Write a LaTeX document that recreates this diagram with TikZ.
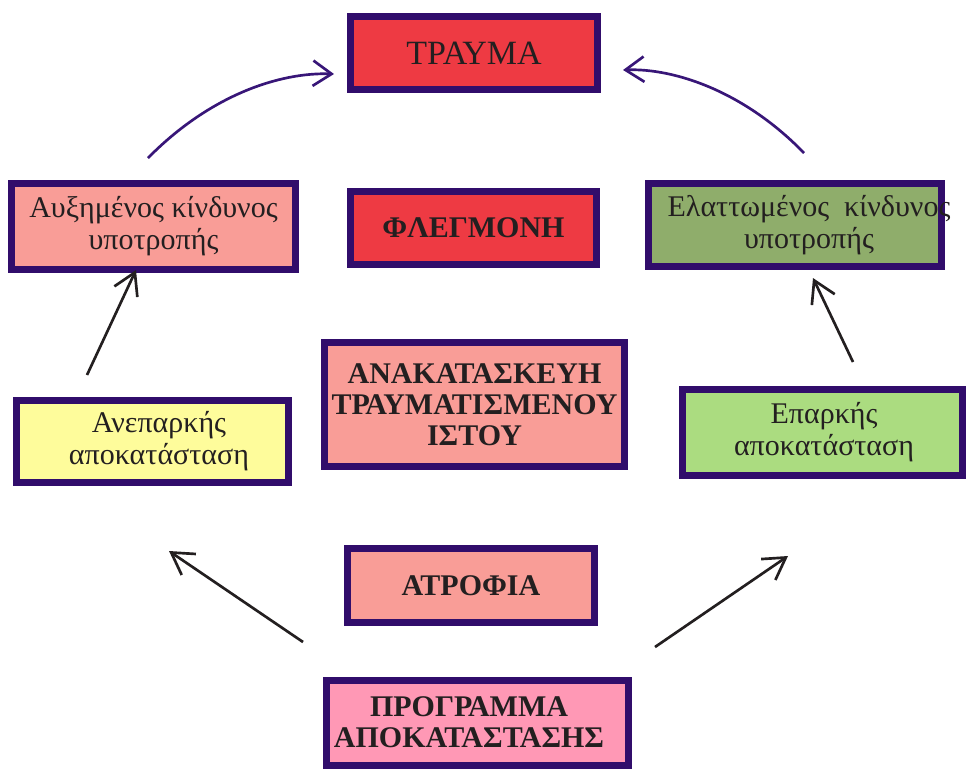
\documentclass[tikz,border=0pt]{standalone}
\usepackage{fontspec}
\setmainfont{Liberation Serif}
\usetikzlibrary{arrows.meta}

\definecolor{frame}{RGB}{49,13,107}
\definecolor{ink}{RGB}{35,31,32}
\definecolor{curve}{RGB}{56,22,120}
\definecolor{redfill}{RGB}{238,58,67}
\definecolor{salmon}{RGB}{249,157,151}
\definecolor{olive}{RGB}{143,173,107}
\definecolor{paleyellow}{RGB}{254,252,155}
\definecolor{lightgreen}{RGB}{171,220,128}
\definecolor{pinkfill}{RGB}{255,152,181}

\begin{document}
\begin{tikzpicture}[x=0.75pt,y=-0.75pt,
  box/.style={draw=frame, line width=5.25pt, inner sep=0pt, align=center, text=ink},
  dims/.style 2 args={minimum width={#1*0.75pt}, minimum height={#2*0.75pt}},
  txt/.style={inner sep=0pt, align=center, text=ink},
  reg/.style={font=\fontsize{22.5}{24}\selectfont},
  big/.style={font=\fontsize{25.5}{28}\selectfont},
  heavy/.style={font=\fontsize{22.5}{23.25}\selectfont\bfseries},
  upcurve/.style={draw=curve, line width=2pt, -{Straight Barb[length=14pt,width=19pt]}},
  straight/.style={draw=ink, line width=2pt, -{Straight Barb[length=16pt,width=19pt]}}]

\useasboundingbox (0,0) rectangle (966,769);

% central column
\node[box, big, fill=redfill, dims={247}{73}] (trauma) at (474,53) {ΤΡΑΥΜΑ};
\node[box, heavy, fill=redfill, dims={246}{73}] (flegmoni) at (473.5,228) {ΦΛΕΓΜΟΝΗ};
\node[box, heavy, fill=salmon, dims={300}{124}] (anakat) at (474.5,404.5)
  {ΑΝΑΚΑΤΑΣΚΕΥΗ\\ΤΡΑΥΜΑΤΙΣΜΕΝΟΥ\\ΙΣΤΟΥ};
\node[box, heavy, fill=salmon, dims={247}{74}] (atrofia) at (471,585.5) {ΑΤΡΟΦΙΑ};
\node[box, fill=pinkfill, dims={302}{85}] (programma) at (477.5,723) {};
\node[txt, heavy] (programmatext) at (469,722.5) {ΠΡΟΓΡΑΜΜΑ\\ΑΠΟΚΑΤΑΣΤΑΣΗΣ};

% left branch
\node[box, reg, fill=salmon, dims={284}{86}] (highrisk) at (153.5,226.5)
  {Αυξημένος κίνδυνος\\υποτροπής};
\node[box, fill=paleyellow, dims={272}{82}] (poor) at (152.5,441.5) {};
\node[txt, reg] (poortext) at (159,441.5) {Ανεπαρκής\\αποκατάσταση};

% right branch
\node[box, fill=olive, dims={293}{83}] (lowrisk) at (795,225) {};
\node[txt, reg] (lowrisktext) at (809,225) {Ελαττωμένος\ \ κίνδυνος\\υποτροπής};
\node[box, fill=lightgreen, dims={280}{86}] (good) at (822.5,432.5) {};
\node[txt, reg] (goodtext) at (824,432.5) {Επαρκής\\αποκατάσταση};

% arrow end points
\coordinate (lcs) at (148,158);  \coordinate (lce) at (334,74);
\coordinate (rcs) at (804,153);  \coordinate (rce) at (623,70);
\coordinate (lvs) at (87,375);   \coordinate (lve) at (136,270);
\coordinate (rvs) at (853,362);  \coordinate (rve) at (813,278);
\coordinate (bls) at (303,642);  \coordinate (ble) at (169,551);
\coordinate (brs) at (655,647);  \coordinate (bre) at (788,556);

% curved arrows into ΤΡΑΥΜΑ
\draw[upcurve] (lcs) .. controls (210,95) and (280,72) .. (lce);
\draw[upcurve] (rcs) .. controls (745,92) and (675,68) .. (rce);

% straight arrows
\draw[straight] (lvs) -- (lve);
\draw[straight] (rvs) -- (rve);
\draw[straight] (bls) -- (ble);
\draw[straight] (brs) -- (bre);
\end{tikzpicture}
\end{document}
